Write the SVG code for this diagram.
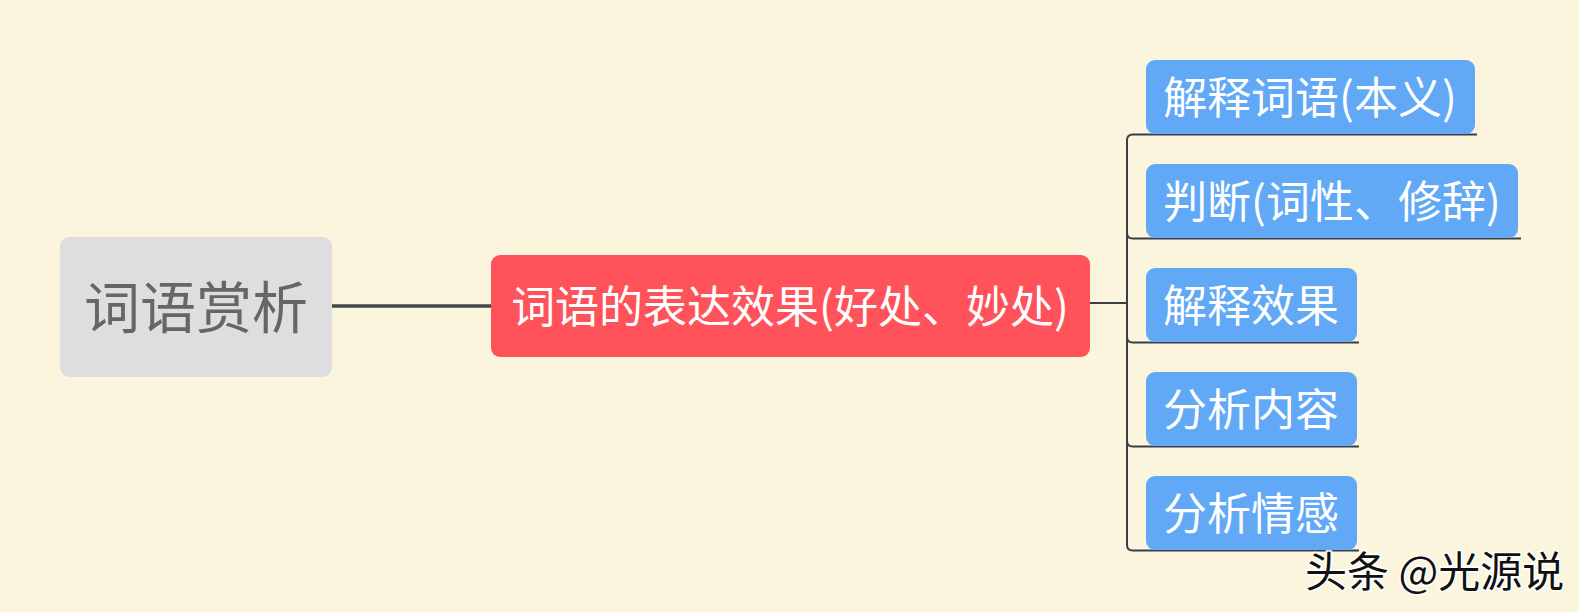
<svg xmlns="http://www.w3.org/2000/svg" width="1579" height="612" viewBox="0 0 1579 612">
<style>
text{font-family:"Noto Sans CJK SC","Noto Sans",sans-serif;}
.child rect{fill:#61a8f6;}
.child text{fill:#ffffff;font-size:44px;}
.branch{fill:none;stroke:#3a3f46;stroke-width:2;}
</style>
<rect x="0" y="0" width="1579" height="612" fill="#fbf5dd"/>
<g id="connectors">
<line x1="331" y1="306" x2="492" y2="306" stroke="#44484e" stroke-width="3.5"/>
<path class="branch" d="M1090 303 H1127 V140 Q1127 134.5 1133 134.5 H1477"/>
<path class="branch" d="M1127 303 V233 Q1127 238.5 1133 238.5 H1521"/>
<path class="branch" d="M1127 303 V337 Q1127 342.5 1133 342.5 H1359"/>
<path class="branch" d="M1127 303 V441 Q1127 446.5 1133 446.5 H1359"/>
<path class="branch" d="M1127 303 V545 Q1127 550.5 1133 550.5 H1359"/>
</g>
<g id="root">
<rect x="60" y="237" width="272" height="140" rx="9" fill="#dedede"/>
<text x="196" y="328" font-size="56" fill="#666666" text-anchor="middle">词语赏析</text>
</g>
<g id="main">
<rect x="491" y="255" width="599" height="102" rx="9" fill="#ff525a"/>
<text x="790" y="323" font-size="44" fill="#ffffff" text-anchor="middle">词语的表达效果(好处、妙处)</text>
</g>
<g id="c1" class="child">
<rect x="1146" y="60" width="329" height="74" rx="9"/>
<text x="1310" y="114" text-anchor="middle">解释词语(本义)</text>
</g>
<g id="c2" class="child">
<rect x="1146" y="164" width="372" height="74" rx="9"/>
<text x="1332" y="218" text-anchor="middle">判断(词性、修辞)</text>
</g>
<g id="c3" class="child">
<rect x="1146" y="268" width="211" height="74" rx="9"/>
<text x="1251" y="322" text-anchor="middle">解释效果</text>
</g>
<g id="c4" class="child">
<rect x="1146" y="372" width="211" height="74" rx="9"/>
<text x="1251" y="426" text-anchor="middle">分析内容</text>
</g>
<g id="c5" class="child">
<rect x="1146" y="476" width="211" height="74" rx="9"/>
<text x="1251" y="530" text-anchor="middle">分析情感</text>
</g>
<g id="watermark">
<text x="1305" y="587" font-size="42" fill="#111111" stroke="#ffffff" stroke-width="3" paint-order="stroke">头条 @光源说</text>
</g>
</svg>
